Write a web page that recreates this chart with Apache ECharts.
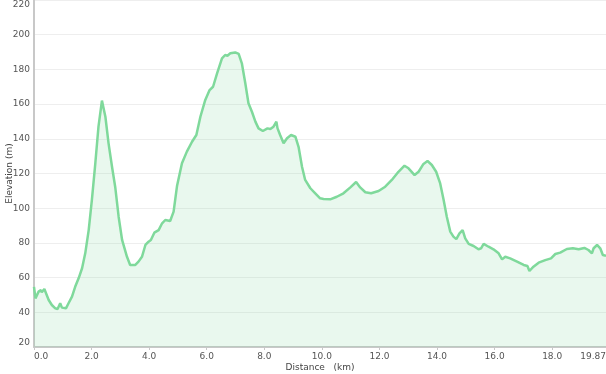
<!DOCTYPE html>
<html><head><meta charset="utf-8">
<script src="https://cdn.jsdelivr.net/npm/echarts@6/dist/echarts.min.js"></script>
<style>html,body{margin:0;padding:0;background:#fff}#c{width:606px;height:374px}</style>
</head><body><div id="c"></div>
<script>
const distance = [0,0.05,0.16,0.24,0.27,0.36,0.51,0.62,0.74,0.82,0.91,0.97,1.11,1.2,1.32,1.43,1.55,1.67,1.78,1.9,2.01,2.13,2.24,2.36,2.48,2.59,2.71,2.82,2.94,3.06,3.23,3.34,3.52,3.63,3.75,3.87,3.98,4.06,4.18,4.33,4.45,4.56,4.73,4.85,4.97,5.14,5.31,5.49,5.64,5.78,5.95,6.1,6.22,6.36,6.53,6.64,6.72,6.82,6.99,7.11,7.22,7.34,7.45,7.57,7.69,7.8,7.95,8.11,8.21,8.32,8.38,8.42,8.46,8.55,8.67,8.79,8.93,9.08,9.19,9.31,9.42,9.6,9.77,9.94,10.06,10.29,10.52,10.75,10.99,11.19,11.33,11.51,11.71,11.97,12.2,12.43,12.66,12.87,13.01,13.22,13.36,13.53,13.67,13.82,13.97,14.11,14.23,14.34,14.46,14.57,14.67,14.78,14.89,14.98,15.1,15.27,15.44,15.53,15.62,15.79,15.96,16.14,16.26,16.37,16.54,16.78,17.01,17.14,17.21,17.35,17.53,17.76,17.96,18.11,18.28,18.51,18.72,18.92,19.12,19.26,19.38,19.44,19.56,19.67,19.76,19.87];
const elevation = [54.7,48,51.9,52.8,51.5,53.4,47.1,44.2,42.3,41.9,45.2,42.7,42.3,45.2,49,54.7,59.6,65.4,74,87.4,104.7,125.9,147,162,152.7,137.4,123.9,112.4,95.1,81.7,72,67.3,67.3,69.2,72,78.8,80.7,81.7,85.9,87.4,91.3,93.2,92.6,98,113,125.9,132.6,138.3,142.2,152.7,162.4,168.1,170,177.7,186.4,188.3,187.9,189.3,189.8,188.9,183.5,172,160.5,155.6,149.9,146,144.5,146,145.6,147,146,149.9,146,142.2,137.4,140.3,142.2,141.2,135.4,123.9,116.3,111.5,108.6,105.7,105.3,105.1,106.6,108.6,112,115.1,112,109.2,108.6,109.9,112.4,116.3,121,124.5,123,119.1,121,125.5,127.2,124.9,121,114.3,104.7,95.1,86.5,83.6,82.2,85.5,87.4,82.6,79.4,78.2,76.3,76.9,79.4,77.8,76.3,74,70.5,72,71.1,69.2,67.3,66.7,63.8,66.3,68.6,70.1,71.1,73.6,74.4,76.5,76.9,76.3,77.1,75.9,74,76.9,78.8,76.9,73,72.6];
const xMax = 19.87;
const yTicks = {min: 20, max: 220, interval: 20};

const chart = echarts.init(document.getElementById('c'), null, {renderer: 'canvas'});
const font = 'DejaVu Sans';
chart.setOption({
  animation: false,
  backgroundColor: '#fff',
  grid: {left: 34, right: 0, top: 0, bottom: 27, containLabel: false, outerBoundsMode: 'none'},
  xAxis: {
    type: 'value', min: 0, max: xMax, interval: 2,
    name: 'Distance   (km)', nameLocation: 'middle', nameGap: 16, nameMoveOverlap: false,
    nameTextStyle: {fontFamily: font, fontSize: 9, color: '#444'},
    axisLine: {show: true, lineStyle: {color: '#c8c8c8', width: 2}},
    axisTick: {show: true, length: 3, lineStyle: {color: '#c8c8c8'}},
    axisLabel: {fontFamily: font, fontSize: 9, color: '#555', margin: 5,
      alignMinLabel: 'left', alignMaxLabel: 'right',
      formatter: v => Number.isInteger(v) ? v.toFixed(1) : String(v)},
    splitLine: {show: false}
  },
  yAxis: {
    type: 'value', min: yTicks.min, max: yTicks.max, interval: yTicks.interval,
    name: 'Elevation (m)', nameLocation: 'middle', nameGap: 20, nameMoveOverlap: false,
    nameTextStyle: {fontFamily: font, fontSize: 9, color: '#444'},
    axisLine: {show: true, lineStyle: {color: '#c8c8c8', width: 2}},
    axisTick: {show: false},
    axisLabel: {fontFamily: font, fontSize: 9, color: '#555', margin: 4,
      verticalAlignMaxLabel: 'top', verticalAlignMinLabel: 'bottom'},
    splitLine: {show: true, lineStyle: {color: '#eeeeee', width: 1}}
  },
  series: [{
    type: 'line', showSymbol: false, smooth: false,
    data: distance.map((d, i) => [d, elevation[i]]),
    lineStyle: {color: '#7fd99b', width: 2.5},
    itemStyle: {color: '#7fd99b'},
    areaStyle: {color: 'rgba(125,216,154,0.24)'}
  }]
});
</script></body></html>
